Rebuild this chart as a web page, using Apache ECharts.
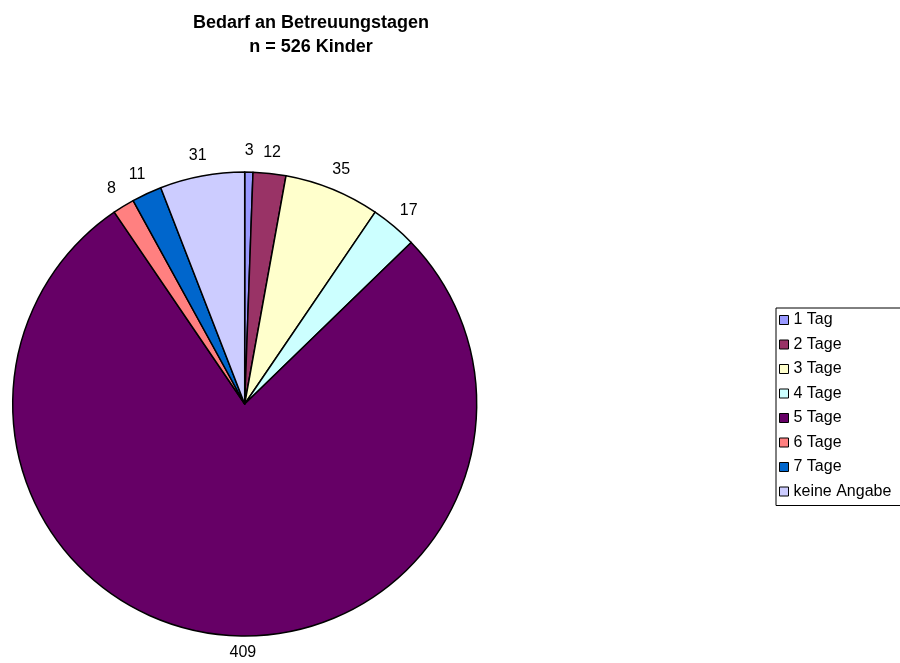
<!DOCTYPE html>
<html>
<head>
<meta charset="utf-8">
<script src="https://cdn.jsdelivr.net/npm/echarts@6/dist/echarts.min.js"></script>
<style>
  html, body { margin: 0; padding: 0; background: #fff; }
  #chart { width: 900px; height: 663px; }
</style>
</head>
<body>
<div id="chart"></div>
<script>
// Bedarf an Betreuungstagen, n = 526
const categories = ['1 Tag', '2 Tage', '3 Tage', '4 Tage', '5 Tage', '6 Tage', '7 Tage', 'keine Angabe']
const values = [3, 12, 35, 17, 409, 8, 11, 31]
const colors = ['#9999FF', '#993366', '#FFFFCC', '#CCFFFF', '#660066', '#FF8080', '#0066CC', '#CCCCFF']

const font = 'Arial, "Liberation Sans", sans-serif'

const chart = echarts.init(document.getElementById('chart'))

// größtes Segment: Label wie im Original unter die Mitte setzen
const biggest = values.indexOf(Math.max(...values))

const option = {
  animation: false,
  color: colors,
  title: {
    text: 'Bedarf an Betreuungstagen\nn = 526 Kinder',
    left: 311,
    top: 11,
    padding: 0,
    textAlign: 'center',
    textStyle: {
      fontFamily: font,
      fontSize: 18,
      fontWeight: 'bold',
      lineHeight: 24,
      color: '#000'
    }
  },
  legend: {
    orient: 'vertical',
    left: 776,
    top: 308,
    padding: [4, 14, 6, 3],
    itemGap: 8.5,
    itemWidth: 9,
    itemHeight: 9,
    icon: 'rect',
    borderColor: '#000',
    borderWidth: 1,
    borderRadius: 0,
    itemStyle: { borderColor: '#000', borderWidth: 1 },
    textStyle: { fontFamily: font, fontSize: 16, lineHeight: 16, color: '#000' },
    data: categories
  },
  series: [{
    type: 'pie',
    center: [244.7, 404],
    radius: 232,
    startAngle: 90,
    clockwise: true,
    avoidLabelOverlap: false,
    itemStyle: { borderColor: '#000', borderWidth: 1.5 },
    emphasis: { disabled: true },
    label: {
      show: true,
      position: 'outside',
      formatter: '{c}',
      distanceToLabelLine: 0,
      fontFamily: font,
      fontSize: 16,
      color: '#000'
    },
    labelLine: { show: false, length: 23, length2: 0 },
    labelLayout: function (params) {
      if (params.dataIndex === biggest) {
        return { align: 'center', verticalAlign: 'middle', dx: 24, dy: -5 }
      }
      return { align: 'center', verticalAlign: 'middle', dy: 2 }
    },
    data: categories.map((name, i) => ({ name: name, value: values[i] }))
  }]
}

chart.setOption(option)
</script>
</body>
</html>
